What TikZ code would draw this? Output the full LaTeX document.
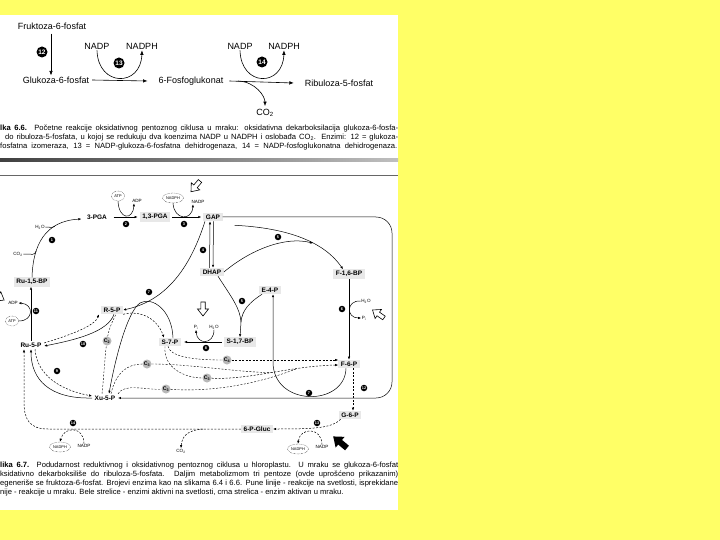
\documentclass[tikz,border=0pt]{standalone}
\usepackage{fontspec}
\setmainfont{Liberation Sans}
\usetikzlibrary{arrows.meta,shapes.geometric,calc}
\definecolor{bgy}{RGB}{255,255,102}
\tikzset{
  met/.style={font=\fontsize{6.5}{7}\selectfont\bfseries, fill=black!9, inner xsep=2.5pt, inner ysep=1.8pt},
  metn/.style={font=\fontsize{6.5}{7}\selectfont\bfseries, inner xsep=2.5pt, inner ysep=1.8pt},
  sm/.style={font=\fontsize{4.6}{5}\selectfont, inner sep=0.5pt},
  dotel/.style={ellipse, draw, densely dotted, line width=0.4pt, font=\fontsize{3.9}{4.5}\selectfont, inner sep=0.6pt, minimum height=10pt, minimum width=13pt},
  enz/.style={circle, fill=black, text=white, font=\fontsize{3.8}{4}\selectfont\bfseries, inner sep=0pt, minimum size=6.5pt},
  enzbig/.style={circle, fill=black, text=white, font=\fontsize{6.5}{7}\selectfont\bfseries, inner sep=0pt, minimum size=11pt},
  cc/.style={circle, fill=black!28, font=\fontsize{5.3}{6}\selectfont\bfseries, inner sep=0pt, minimum size=9pt},
  ar/.style={-{Latex[length=3pt,width=2.4pt]}, line width=0.5pt},
  arb/.style={-{Latex[length=4.5pt,width=3.5pt]}, line width=0.6pt},
  ln/.style={line width=0.5pt},
  da/.style={dash pattern=on 2pt off 1.5pt},
  topl/.style={font=\fontsize{9}{10}\selectfont, inner sep=1pt},
  capt/.style={font=\fontsize{7.6}{8}\selectfont, inner sep=0pt, anchor=base west},
  openarr/.pic={\draw[fill=white, line width=0.6pt, line join=miter] (0,-2.2) -- (7,-2.2) -- (7,-5.5) -- (14,0) -- (7,5.5) -- (7,2.2) -- (0,2.2) -- cycle;},
  blackarr/.pic={\fill[black] (0,-3) -- (9,-3) -- (9,-7) -- (18,0) -- (9,7) -- (9,3) -- (0,3) -- cycle;},
}
\begin{document}
\begin{tikzpicture}[x=1pt,y=-1pt]
\useasboundingbox (0,0) rectangle (720,540);
\fill[bgy] (0,0) rectangle (720,540);
\fill[white] (0,15) rectangle (398,510);

% ---------- Fig 6.6 ----------
\node[topl] (fru) at (52,26) {Fruktoza-6-fosfat};
\node[topl] (glu) at (56,80) {Glukoza-6-fosfat};
\node[topl] (pgk) at (191,81) {6-Fosfoglukonat};
\node[topl] (rib) at (339,83) {Ribuloza-5-fosfat};
\node[topl] (nadpA) at (97,46) {NADP};
\node[topl] (nadphA) at (142,46) {NADPH};
\node[topl] (nadpB) at (240,46) {NADP};
\node[topl] (nadphB) at (284,46) {NADPH};
\node[topl] (co2a) at (265,113) {CO\textsubscript{2}};
\node[enzbig] (t12) at (42,52) {12};
\node[enzbig] (t13) at (119,63) {13};
\node[enzbig] (t14) at (262,62) {14};
\draw[arb, shorten <=3pt] ([xshift=-1pt]fru.south) -- ([xshift=-5pt]glu.north);
\draw[arb] ([xshift=2pt]glu.east) -- ([xshift=-10pt]pgk.west);
\draw[arb] (nadpA.south) .. controls +(1,37) and +(-1,37) .. (nadphA.south);
\draw[arb] ([xshift=5pt]pgk.east) -- ([xshift=-10pt]rib.west);
\draw[arb] (nadpB.south) .. controls +(1,37) and +(-1,37) .. (nadphB.south);
\draw[arb, shorten >=2pt] ([xshift=14pt]pgk.east) .. controls +(17,1) and +(0,-12) .. (co2a.north);

\node[capt] (c66a) at (0,130.5) {\makebox[398pt][s]{\textbf{lka 6.6.} Početne reakcije oksidativnog pentoznog ciklusa u mraku: oksidativna dekarboksilacija glukoza-6-fosfa-}};
\node[capt] (c66b) at (5,139.5) {\makebox[393pt][s]{do ribuloza-5-fosfata, u kojoj se redukuju dva koenzima NADP u NADPH i oslobađa CO\textsubscript{2}. Enzimi: 12 = glukoza-}};
\node[capt] (c66c) at (0,148.5) {\makebox[397pt][s]{fosfatna izomeraza, 13 = NADP-glukoza-6-fosfatna dehidrogenaza, 14 = NADP-fosfoglukonatna dehidrogenaza.}};

% separators
\shade[left color=black!75, right color=black!25] (0,159) rectangle (398,161.5);
\draw[black!60, line width=0.6pt] (0,175) -- (398,175);

% ---------- Fig 6.7 ----------
\node[metn] (pga3) at (97,217) {3-PGA};
\node[met] (pga13) at (155,217) {1,3-PGA};
\node[met] (gap) at (213,217) {GAP};
\node[met] (dhap) at (212,272) {DHAP};
\node[met] (f16) at (349,274) {F-1,6-BP};
\node[met] (e4p) at (270,290) {E-4-P};
\node[met] (s17) at (240,342) {S-1,7-BP};
\node[met] (s7p) at (170,342) {S-7-P};
\node[met] (r5p) at (112,310) {R-5-P};
\node[met] (ru15) at (32,282) {Ru-1,5-BP};
\node[metn] (ru5p) at (31,345) {Ru-5-P};
\node[metn] (xu5p) at (105,398) {Xu-5-P};
\node[met] (f6p) at (349,364) {F-6-P};
\node[met] (g6p) at (350,415) {G-6-P};
\node[met] (pgluc) at (257,429) {6-P-Gluc};

\node[dotel] (atp2) at (118,196) {ATP};
\node[sm] (adp2) at (137,201) {ADP};
\node[dotel, minimum width=20pt] (nadph3) at (173,198) {NADPH};
\node[sm] (nadp3) at (198,202) {NADP};
\node[sm] (h2o1) at (40,227) {H\textsubscript{2}O};
\node[sm] (co21) at (18,254) {CO\textsubscript{2}};
\node[sm] (adp11) at (13,303) {ADP};
\node[dotel] (atp11) at (12,321) {ATP};
\node[sm] (h2o6) at (366,301) {H\textsubscript{2}O};
\node[sm] (pi6) at (364,318) {P\textsubscript{i}};
\node[sm] (h2o8) at (214,327) {H\textsubscript{2}O};
\node[sm] (pi8) at (196,327) {P\textsubscript{i}};
\node[dotel, minimum width=20pt] (nadph14) at (60,447) {NADPH};
\node[sm] (nadp14) at (84,446) {NADP};
\node[sm] (co214) at (181,451) {CO\textsubscript{2}};
\node[dotel, minimum width=20pt] (nadph13) at (298,449) {NADPH};
\node[sm] (nadp13) at (322,447) {NADP};

\node[enz] (e1) at (52,240) {1};
\node[enz] (e2) at (126,224) {2};
\node[enz] (e3) at (184,224) {3};
\node[enz] (e4) at (203,250) {4};
\node[enz] (e5a) at (278,237) {5};
\node[enz] (e5b) at (242,301) {5};
\node[enz] (e6) at (342,309) {6};
\node[enz] (e7a) at (149,292) {7};
\node[enz] (e7b) at (309,393) {7};
\node[enz] (e8) at (206,348) {8};
\node[enz] (e9) at (57,371) {9};
\node[enz] (e10) at (83,344) {10};
\node[enz] (e11) at (36,311) {11};
\node[enz] (e12) at (364,388) {12};
\node[enz] (e13) at (317,423) {13};
\node[enz] (e14) at (73,423) {14};

\node[cc] (c2) at (107,341) {C\textsubscript{2}};
\node[cc] (c3a) at (147,364) {C\textsubscript{3}};
\node[cc] (c3b) at (207,378) {C\textsubscript{3}};
\node[cc] (c3c) at (166,389) {C\textsubscript{3}};
\node[cc] (c4) at (227,360) {C\textsubscript{4}};

% Ru-1,5-BP -> 3-PGA
\draw[ar] (ru15.north) .. controls (33,245) and (45,221) .. ([shift={(-3pt,-2pt)}]pga3.west) coordinate[pos=0.3] (jc) coordinate[pos=0.7] (jh);
\draw[ln] (h2o1.east) .. controls +(7,0) and +(-5,2) .. (jh);
\draw[ln] (co21.east) .. controls +(10,0) and +(-2,5) .. (jc);
% 3-PGA -> 1,3-PGA -> GAP
\draw[ar, shorten <=4pt, shorten >=2pt] (pga3.east) -- (pga13.west);
\draw[ar] (atp2.south) .. controls +(1,19) and +(-1,17) .. ([xshift=-3pt]adp2.south);
\draw[ar, shorten <=2pt, shorten >=2pt] (pga13.east) -- (gap.west);
\draw[ar] (nadph3.south) .. controls +(1,17) and +(-1,17) .. ([xshift=-5pt]nadp3.south);
% GAP <-> DHAP
\draw[ar] ([xshift=-2.5pt]dhap.north) -- ([xshift=-3pt]gap.south);
\draw[ar] ([xshift=0.5pt]gap.south) -- ([xshift=1pt]dhap.north);
% GAP -> F-1,6-BP, DHAP joins
\draw[ar] ([shift={(12pt,-4pt)}]gap.south east) .. controls (290,228) and (325,243) .. ([xshift=-6pt]f16.north) coordinate[pos=0.6] (mg);
\draw[ar] (dhap.east) .. controls (250,250) and (285,236) .. (mg);
% big loop GAP -> Xu-5-P
\draw[ar, rounded corners=16pt] (gap.east) -- (392,217) -- (392,398) -- (xu5p.east);
% GAP -> R-5-P
\draw[ar] ([xshift=-8pt]gap.south) .. controls (192,262) and (170,300) .. (r5p.east);
% S-7-P -> Xu-5-P (solid arc)
\draw[ar] ([xshift=3pt]s7p.north) .. controls (172,310) and (152,296) .. (140,303) .. controls (127,312) and (115,360) .. ([xshift=4pt]xu5p.north);
% R-5-P -> S-7-P dashed, C2
\draw[ar,da] (r5p.south east) .. controls (140,310) and (157,318) .. ([xshift=-6pt]s7p.north);
\draw[da] ([xshift=-3pt]xu5p.north) .. controls (104,375) and (105,355) .. (c2);
\draw[da] (c2) .. controls (109,328) and (114,318) .. ([xshift=4pt]r5p.south);
% Ru-5-P <-> R-5-P
\draw[ar,da] ([yshift=2pt]ru5p.east) .. controls (70,335) and (95,326) .. ([xshift=-2pt]r5p.south west);
\draw[ar] ([xshift=2pt]r5p.south) .. controls (108,332) and (75,340) .. ([yshift=-1pt]ru5p.east);
% Ru-5-P <-> Xu-5-P
\draw[ar] (xu5p.west) .. controls (50,399) and (31,380) .. (ru5p.south);
\draw[ar,da] ([xshift=4pt]ru5p.south) .. controls (37,375) and (60,390) .. ([yshift=2pt]xu5p.west);
% Ru-5-P -> Ru-1,5-BP
\draw[ar] (ru5p.north) -- (ru5p.north |- ru15.south);
\draw[ar] (atp11.east) .. controls (34,321) and (34,304) .. (adp11.east);
% DHAP + E-4-P -> S-1,7-BP
\coordinate (ym) at (241,322);
\draw[ln] ([xshift=6pt]dhap.south) .. controls (232,298) and (240,308) .. (ym);
\draw[ln] ([xshift=-8pt]e4p.south) .. controls (250,302) and (242,310) .. (ym);
\draw[ar] (ym) -- (s17.north);
% S-1,7-BP -> S-7-P
\draw[ar, shorten <=2pt, shorten >=3pt] (s17.west) -- (s7p.east);
\draw[ar] (h2o8.south) .. controls (214,345) and (197,345) .. (pi8.south);
% F-1,6-BP -> F-6-P
\draw[ar] (f16.south) -- (f6p.north);
\draw[ar] (h2o6.west) .. controls (346,300) and (346,318) .. (pi6.west);
% F-6-P -> E-4-P (U)
\draw[ar] ([xshift=-3pt]f6p.south) .. controls (345,407) and (273,407) .. (273,362) -- ([xshift=3pt]e4p.south);
% dashed carbon transfers
\draw[da] ([xshift=-2pt]s7p.south) .. controls (170,356) and (190,360) .. (c4);
\draw[ar,da] (c4) -- ([yshift=4pt]f6p.west);
\draw[da] ([xshift=-5pt]s7p.south) .. controls (163,368) and (185,378) .. (c3b);
\draw[ar,da] (c3b) .. controls (250,380) and (290,366) .. ([yshift=-1pt]f6p.west) coordinate[pos=0.5] (m3a) coordinate[pos=0.7] (m3c);
\draw[da] ([xshift=6pt]xu5p.north) .. controls (116,372) and (128,364) .. (c3a);
\draw[da] (c3a) .. controls (190,364) and (235,372) .. (m3a);
\draw[da] (xu5p.north east) .. controls (125,383) and (145,390) .. (c3c);
\draw[da] (c3c) .. controls (210,392) and (255,385) .. (m3c);
% F-6-P -> G-6-P -> 6-P-Gluc -> Ru-5-P
\draw[ar,da] ([xshift=4pt]f6p.south) -- ([xshift=3pt]g6p.north);
\draw[ar,da] ([xshift=2pt]g6p.south west) .. controls (332,428) and (315,429) .. (pgluc.east);
\draw[ar,da] (nadp13.north) .. controls (322,427) and (300,427) .. (nadph13.north);
\draw[ar,da] (pgluc.west) -- (48,429) .. controls (30,429) and (24,420) .. (24,402) -- ([xshift=-7pt]ru5p.south);
\coordinate (cb) at (203,429);
\draw[ar,da] (cb) .. controls (189,430) and (182,435) .. (co214.north);
\draw[ar,da] (nadp14.north) .. controls (84,426) and (64,426) .. (nadph14.north);

% light / dark arrows
\pic[rotate=230] at (200,181) {openarr};
\pic[rotate=-90] at (203,302) {openarr};
\pic[rotate=145] at (384,318) {openarr};
\pic[rotate=-30] at (-8,293) {openarr};
\pic[rotate=140] at (347,448) {blackarr};

% caption 6.7
\node[capt] (c67a) at (0,467.5) {\makebox[398pt][s]{\textbf{lika 6.7.} Podudarnost reduktivnog i oksidativnog pentoznog ciklusa u hloroplastu. U mraku se glukoza-6-fosfat}};
\node[capt] (c67b) at (0,476.5) {\makebox[398pt][s]{ksidativno dekarboksiliše do ribuloza-5-fosfata. Daljim metabolizmom tri pentoze (ovde uprošćeno prikazanim)}};
\node[capt] (c67c) at (0,485.5) {\makebox[398pt][s]{egeneriše se fruktoza-6-fosfat. Brojevi enzima kao na slikama 6.4 i 6.6. Pune linije - reakcije na svetlosti, isprekidane}};
\node[capt] (c67d) at (0,494.5) {nije - reakcije u mraku. Bele strelice - enzimi aktivni na svetlosti, crna strelica - enzim aktivan u mraku.};
\end{tikzpicture}
\end{document}
